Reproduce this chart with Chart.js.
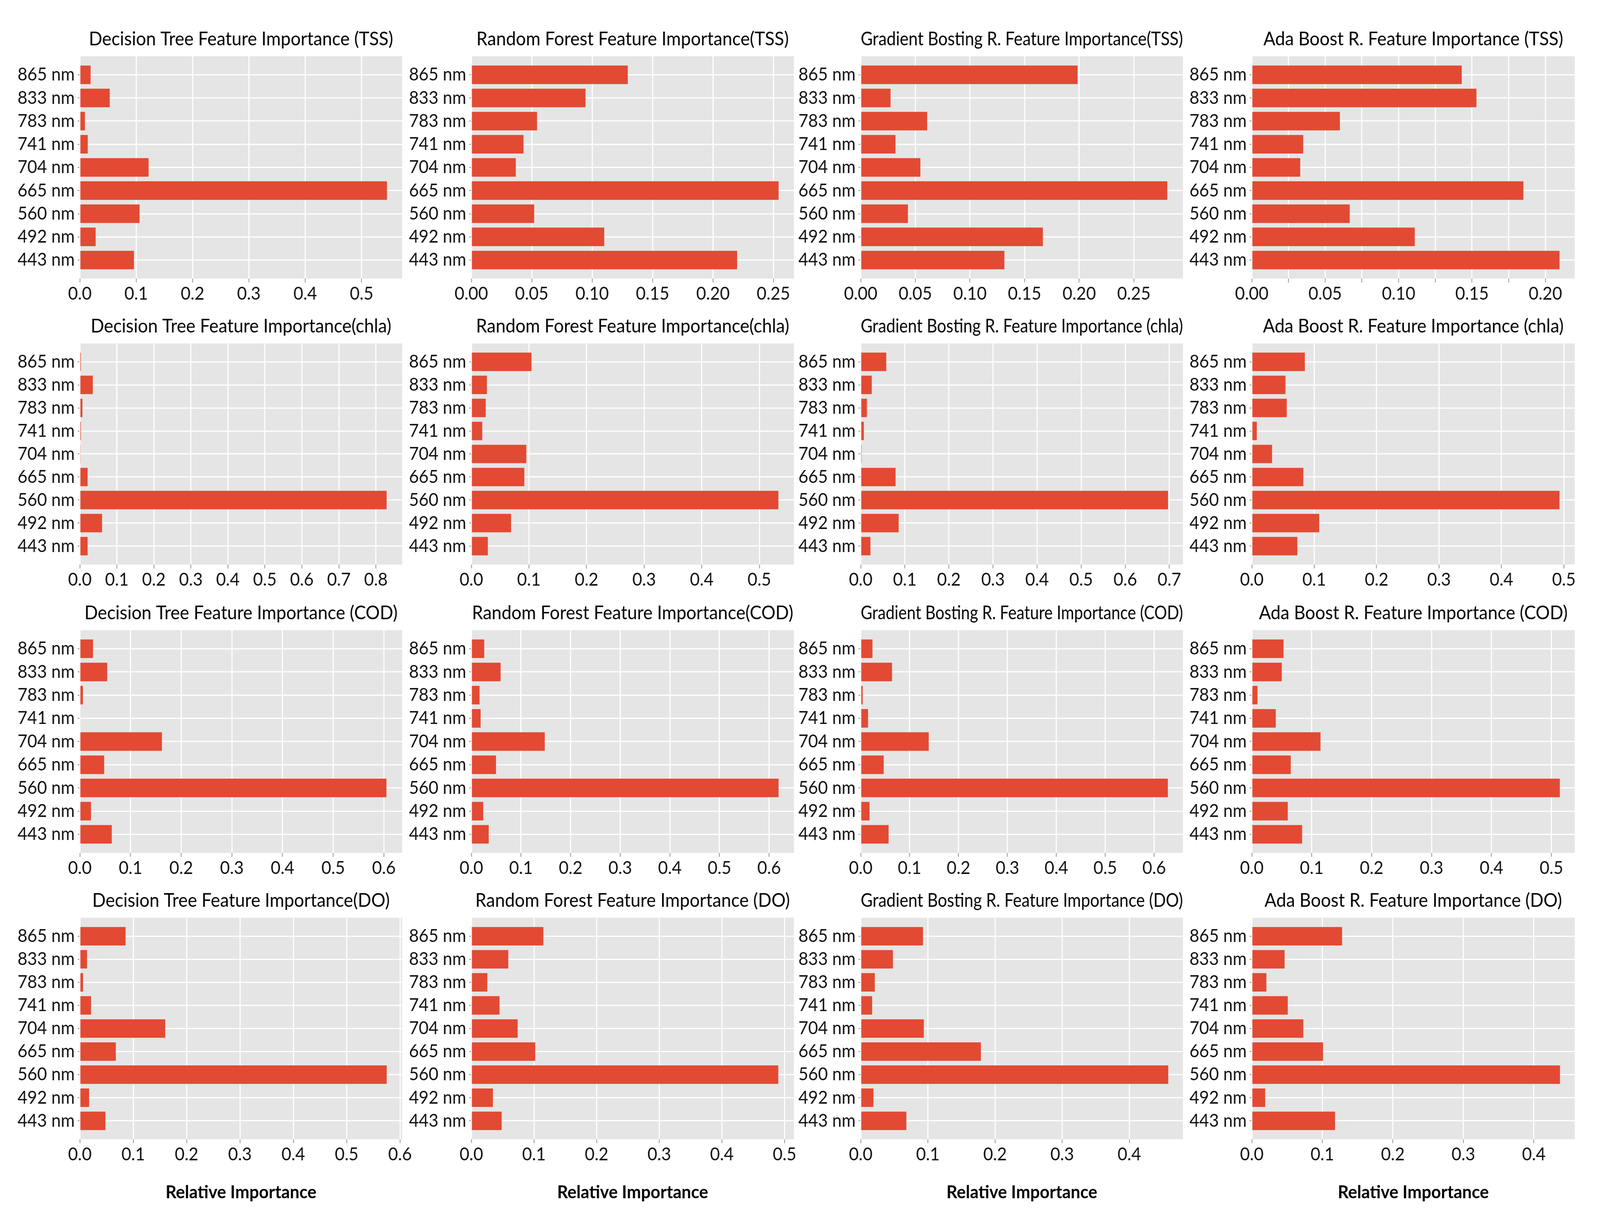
<!DOCTYPE html>
<html><head><meta charset="utf-8">
<script src="https://cdn.jsdelivr.net/npm/chart.js@4.4.0/dist/chart.umd.min.js"></script>
<style>
html,body{margin:0;padding:0;background:#fff;overflow:hidden;width:100vw;height:100vh;}
#wrap{position:relative;width:100vw;height:100vh;overflow:hidden;background:#fff;}
#wrap canvas{position:absolute;}
</style></head><body><div id="wrap"></div>
<script>
// ---- categories (top to bottom) ----
const bands = ['865 nm','833 nm','783 nm','741 nm','704 nm','665 nm','560 nm','492 nm','443 nm'];

// ---- series values (relative importance) ----
const dtTSS = [0.019, 0.053, 0.009, 0.014, 0.122, 0.545, 0.106, 0.028, 0.096];
const rfTSS = [0.1295, 0.0945, 0.0544, 0.0432, 0.0368, 0.2543, 0.052, 0.110, 0.220];
const gbTSS = [0.1985, 0.0273, 0.0608, 0.0318, 0.0546, 0.2806, 0.0432, 0.1667, 0.1315];
const abTSS = [0.143, 0.153, 0.060, 0.035, 0.033, 0.185, 0.0667, 0.111, 0.2096];

const dtChla = [0.003, 0.035, 0.007, 0.003, 0.001, 0.021, 0.829, 0.060, 0.021];
const rfChla = [0.1045, 0.027, 0.025, 0.019, 0.0955, 0.092, 0.533, 0.069, 0.0286];
const gbChla = [0.058, 0.025, 0.014, 0.007, 0.002, 0.079, 0.697, 0.086, 0.022];
const abChla = [0.085, 0.054, 0.056, 0.008, 0.0325, 0.0825, 0.493, 0.108, 0.073];

const dtCOD = [0.026, 0.054, 0.006, 0.001, 0.162, 0.048, 0.605, 0.022, 0.063];
const rfCOD = [0.026, 0.059, 0.0166, 0.0187, 0.148, 0.0497, 0.619, 0.024, 0.035];
const gbCOD = [0.024, 0.064, 0.004, 0.015, 0.139, 0.047, 0.628, 0.018, 0.057];
const abCOD = [0.053, 0.050, 0.0095, 0.040, 0.1146, 0.065, 0.514, 0.060, 0.084];

const dtDO = [0.0857, 0.0135, 0.006, 0.021, 0.160, 0.0674, 0.575, 0.0173, 0.048];
const rfDO = [0.115, 0.059, 0.0255, 0.045, 0.074, 0.102, 0.490, 0.0345, 0.0484];
const gbDO = [0.0927, 0.048, 0.021, 0.017, 0.094, 0.179, 0.458, 0.019, 0.068];
const abDO = [0.128, 0.0465, 0.0207, 0.051, 0.073, 0.101, 0.437, 0.019, 0.118];

// ---- x tick labels ----
const ticks05a = ['0.0','0.1','0.2','0.3','0.4','0.5'];
const ticks025 = ['0.00','0.05','0.10','0.15','0.20','0.25'];
const ticks020 = ['0.00','0.05','0.10','0.15','0.20'];
const ticks08 = ['0.0','0.1','0.2','0.3','0.4','0.5','0.6','0.7','0.8'];
const ticks07 = ['0.0','0.1','0.2','0.3','0.4','0.5','0.6','0.7'];
const ticks06 = ['0.0','0.1','0.2','0.3','0.4','0.5','0.6'];
const ticks05 = ['0.0','0.1','0.2','0.3','0.4','0.5'];
const ticks04 = ['0.0','0.1','0.2','0.3','0.4'];

// ---- axis maxima ----
const xMaxTSS = [0.572, 0.267, 0.295, 0.220];
const xMaxChla = [0.871, 0.560, 0.731, 0.5175];
const xMaxCOD = [0.636, 0.650, 0.659, 0.539];
const xMaxDO = [0.604, 0.515, 0.480, 0.458];

// ---- titles ----
const titlesTSS = ['Decision Tree Feature Importance (TSS)','Random Forest Feature Importance(TSS)','Gradient Bosting R. Feature Importance(TSS)','Ada Boost R. Feature Importance (TSS)'];
const titlesChla = ['Decision Tree Feature Importance(chla)','Random Forest Feature Importance(chla)','Gradient Bosting R. Feature Importance (chla)','Ada Boost R. Feature Importance (chla)'];
const titlesCOD = ['Decision Tree Feature Importance (COD)','Random Forest Feature Importance(COD)','Gradient Bosting R. Feature Importance (COD)','Ada Boost R. Feature Importance (COD)'];
const titlesDO = ['Decision Tree Feature Importance(DO)','Random Forest Feature Importance (DO)','Gradient Bosting R. Feature Importance (DO)','Ada Boost R. Feature Importance (DO)'];
const axisTitle = 'Relative Importance';

// ---- layout (design pixels, 4348 x 3115) ----
const DESIGN_W = 4348, DESIGN_H = 3115;
const rowTop = [144, 879, 1613, 2349];
const rowBottom = [713, 1445, 2183, 2916];
const colLeft = [217, 1281, 2339, 3402];
const colRight = [1093, 2157, 3215, 4279];
const Y_W = 200, PAD_R = 60, TITLE_H = 81;

// fit the design to the real viewport
const kx = (window.innerWidth || DESIGN_W) / DESIGN_W;
const ky = (window.innerHeight || DESIGN_H) / DESIGN_H;

const FONT = 'Lato, "Open Sans", "DejaVu Sans", sans-serif';
const BAR = '#E24A33', PANEL = '#E5E5E5';

const rows = [
  {vals:[dtTSS, rfTSS, gbTSS, abTSS], titles: titlesTSS, max: xMaxTSS, ticks:[ticks05a, ticks025, ticks025, ticks020], minor:[false,false,false,true]},
  {vals:[dtChla, rfChla, gbChla, abChla], titles: titlesChla, max: xMaxChla, ticks:[ticks08, ticks05, ticks07, ticks05], minor:[false,false,false,false]},
  {vals:[dtCOD, rfCOD, gbCOD, abCOD], titles: titlesCOD, max: xMaxCOD, ticks:[ticks06, ticks06, ticks06, ticks05], minor:[false,false,false,false]},
  {vals:[dtDO, rfDO, gbDO, abDO], titles: titlesDO, max: xMaxDO, ticks:[ticks06, ticks05, ticks04, ticks04], minor:[false,false,false,false]}
];

const bgPlugin = {
  id: 'panelBg',
  beforeDraw(chart) {
    const {ctx, chartArea: a} = chart;
    ctx.save();
    ctx.fillStyle = PANEL;
    ctx.fillRect(a.left, a.top, a.right - a.left, a.bottom - a.top);
    ctx.restore();
  }
};

const wrap = document.getElementById('wrap');

rows.forEach((row, r) => {
  row.vals.forEach((vals, c) => {
    const labels = row.ticks[c];
    const major = labels.map(Number);
    let tickVals = major.slice();
    if (row.minor[c]) {
      tickVals = [];
      const step = major[1] - major[0];
      major.forEach(v => {
        tickVals.push(v);
        const mid = v + step / 2;
        if (mid <= row.max[c]) tickVals.push(mid);
      });
    }
    const isBottom = r === 3;
    const xh = isBottom ? 166 : 80;
    const plotW = colRight[c] - colLeft[c];
    const plotH = rowBottom[r] - rowTop[r];
    const cv = document.createElement('canvas');
    const W = Y_W + plotW + PAD_R, H = TITLE_H + plotH + xh;
    cv.width = W; cv.height = H;
    cv.style.width = (W * kx) + 'px';
    cv.style.height = (H * ky) + 'px';
    cv.style.left = ((colLeft[c] - Y_W) * kx) + 'px';
    cv.style.top = ((rowTop[r] - TITLE_H) * ky) + 'px';
    wrap.appendChild(cv);

    new Chart(cv, {
      type: 'bar',
      data: {
        datasets: [{
          data: vals.map((v, i) => ({x: v, y: i})),
          backgroundColor: BAR,
          borderWidth: 0,
          barPercentage: 0.8,
          categoryPercentage: 1
        }]
      },
      options: {
        indexAxis: 'y',
        responsive: false,
        animation: false,
        devicePixelRatio: 1,
        layout: {padding: {left: 0, right: PAD_R, top: 0, bottom: 0}},
        plugins: {
          legend: {display: false},
          tooltip: {enabled: false},
          title: {
            display: true,
            text: row.titles[c],
            fullSize: false,
            align: 'center',
            color: '#000',
            font: {family: FONT, size: 48, weight: 'normal', lineHeight: '55px'},
            padding: {top: 10, bottom: 16}
          }
        },
        scales: {
          y: {
            type: 'linear',
            reverse: true,
            offset: false,
            bounds: 'data',
            min: -0.8,
            max: bands.length - 1 + 0.8,
            afterBuildTicks: s => { s.ticks = bands.map((_, i) => ({value: i})); },
            afterFit: s => { s.width = Y_W; },
            border: {display: false},
            grid: {offset: false, color: '#ffffff', lineWidth: 3, drawTicks: true, tickLength: 6, tickWidth: 2, tickColor: '#8c8c8c'},
            ticks: {
              autoSkip: false,
              callback: v => bands[v],
              color: '#111',
              padding: 8,
              font: {family: FONT, size: 46}
            }
          },
          x: {
            type: 'linear',
            offset: false,
            bounds: 'data',
            min: 0,
            max: row.max[c],
            afterBuildTicks: s => { s.ticks = tickVals.map(v => ({value: v})); },
            afterFit: s => { s.height = xh; },
            border: {display: false},
            grid: {offset: false, color: '#ffffff', lineWidth: 3, drawTicks: true, tickLength: 10, tickWidth: 2, tickColor: '#8c8c8c'},
            ticks: {
              autoSkip: false,
              maxRotation: 0,
              minRotation: 0,
              color: '#111',
              padding: 2,
              font: {family: FONT, size: 46},
              callback: v => {
                const k = major.findIndex(m => Math.abs(m - v) < 1e-9);
                return k >= 0 ? labels[k] : '';
              }
            },
            title: {
              display: isBottom,
              text: axisTitle,
              color: '#000',
              font: {family: FONT, size: 46, weight: 'bold', lineHeight: 1.2},
              padding: {top: 0, bottom: 2}
            }
          }
        }
      },
      plugins: [bgPlugin]
    });
  });
});
</script>
</body></html>
